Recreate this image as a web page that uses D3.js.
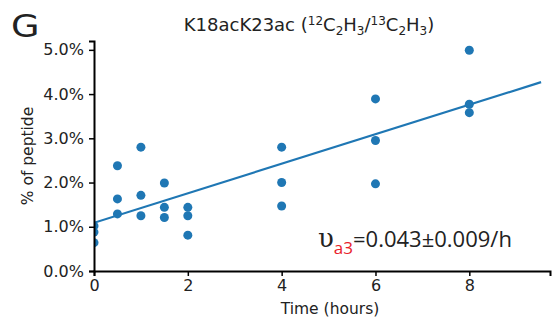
<!DOCTYPE html>
<html>
<head>
<meta charset="utf-8">
<script src="https://cdn.jsdelivr.net/npm/d3@7"></script>
<style>
  body { margin: 0; background: #fff; }
  text { font-family: "DejaVu Sans", sans-serif; fill: #222; }
</style>
</head>
<body>
<div id="chart"></div>
<script>
var svgWidth = 553;
var svgHeight = 322;

var margin = { top: 41, right: 3, bottom: 51, left: 94 };
var width = svgWidth - margin.left - margin.right;
var height = svgHeight - margin.top - margin.bottom;

// measured points (hours, % of peptide)
var timeHours = [0, 0, 0, 0.5, 0.5, 0.5, 1, 1, 1, 1.5, 1.5, 1.5, 2, 2, 2, 4, 4, 4, 6, 6, 6, 8, 8, 8];
var percentValues = [1.02, 0.88, 0.64, 2.38, 1.63, 1.29, 2.80, 1.71, 1.25, 1.99, 1.44, 1.21,
                     1.44, 1.25, 0.81, 2.80, 2.00, 1.47, 3.89, 2.95, 1.97, 4.99, 3.77, 3.58];

// fitted line end points
var fitX = [0, 9.53];
var fitY = [1.09, 4.27];

var xTicks = [0, 2, 4, 6, 8];
var yTicks = [0, 1, 2, 3, 4, 5];

var svg = d3.select("#chart")
    .append("svg")
    .attr("width", svgWidth)
    .attr("height", svgHeight);

var chartGroup = svg.append("g")
    .attr("transform", `translate(${margin.left}, ${margin.top})`);

var xScale = d3.scaleLinear().domain([0, 9.72]).range([0, width]);
var yScale = d3.scaleLinear().domain([0, 5.2]).range([height, 0]);

// clip so points on x=0 are cut at the spine
svg.append("defs").append("clipPath").attr("id", "plotclip")
    .append("rect").attr("x", 0).attr("y", -10).attr("width", width + 10).attr("height", height + 10);

var plot = chartGroup.append("g").attr("clip-path", "url(#plotclip)");

plot.selectAll("circle")
    .data(timeHours)
    .enter()
    .append("circle")
    .attr("cx", d => xScale(d))
    .attr("cy", (d, i) => yScale(percentValues[i]))
    .attr("r", 4.5)
    .attr("fill", "#1f77b4");

var line = d3.line()
    .x(d => xScale(d[0]))
    .y(d => yScale(d[1]));

plot.append("path")
    .datum(fitX.map((x, i) => [x, fitY[i]]))
    .attr("d", line)
    .attr("fill", "none")
    .attr("stroke", "#1f77b4")
    .attr("stroke-width", 2.2);

// axes
var bottomAxis = d3.axisBottom(xScale).tickValues(xTicks).tickSize(5).tickPadding(4).tickFormat(d3.format("d"));
var leftAxis = d3.axisLeft(yScale).tickValues(yTicks).tickSize(5).tickPadding(5).tickFormat(d => d.toFixed(1) + "%");

var xAxis = chartGroup.append("g")
    .attr("transform", `translate(0, ${height})`)
    .call(bottomAxis);
var yAxis = chartGroup.append("g").call(leftAxis);

[xAxis, yAxis].forEach(function (ax) {
    ax.select(".domain").attr("stroke", "#000").attr("stroke-width", 2);
    ax.selectAll(".tick line").attr("stroke", "#000").attr("stroke-width", 1.5);
    ax.selectAll(".tick text")
        .style("font-family", "DejaVu Sans, sans-serif")
        .style("font-size", "16px")
        .attr("fill", "#222");
});

// axis labels
svg.append("text")
    .attr("x", 330)
    .attr("y", 314)
    .attr("text-anchor", "middle")
    .style("font-size", "15.5px")
    .text("Time (hours)");

svg.append("text")
    .attr("transform", "rotate(-90)")
    .attr("x", -156)
    .attr("y", 33)
    .attr("text-anchor", "middle")
    .style("font-size", "15.5px")
    .text("% of peptide");

// panel letter
svg.append("text")
    .attr("transform", "translate(11, 37) scale(1.15, 1)")
    .style("font-family", "DejaVu Sans, sans-serif")
    .style("font-size", "32px")
    .text("G");

// title with sup/sub
var title = svg.append("text")
    .attr("x", 309)
    .attr("y", 31)
    .attr("text-anchor", "middle")
    .style("font-size", "18px");
title.append("tspan").text("K18acK23ac (");
title.append("tspan").attr("dy", -6).style("font-size", "12px").text("12");
title.append("tspan").attr("dy", 6).text("C");
title.append("tspan").attr("dy", 4).style("font-size", "12px").text("2");
title.append("tspan").attr("dy", -4).text("H");
title.append("tspan").attr("dy", 4).style("font-size", "12px").text("3");
title.append("tspan").attr("dy", -4).text("/");
title.append("tspan").attr("dy", -6).style("font-size", "12px").text("13");
title.append("tspan").attr("dy", 6).text("C");
title.append("tspan").attr("dy", 4).style("font-size", "12px").text("2");
title.append("tspan").attr("dy", -4).text("H");
title.append("tspan").attr("dy", 4).style("font-size", "12px").text("3");
title.append("tspan").attr("dy", -4).text(")");

// rate annotation
var note = svg.append("text")
    .attr("x", 318)
    .attr("y", 247)
    .style("font-size", "22px")
    .style("font-family", "Open Sans, sans-serif");
note.append("tspan").style("font-family", "DejaVu Serif, serif").style("font-size", "26px").text("\u03c5");
note.append("tspan").attr("dy", 7).style("font-size", "17px").attr("fill", "#e8202a").text("a3");
note.append("tspan").attr("dy", -7).text("=0.043\u00b10.009/h");
</script>
</body>
</html>
